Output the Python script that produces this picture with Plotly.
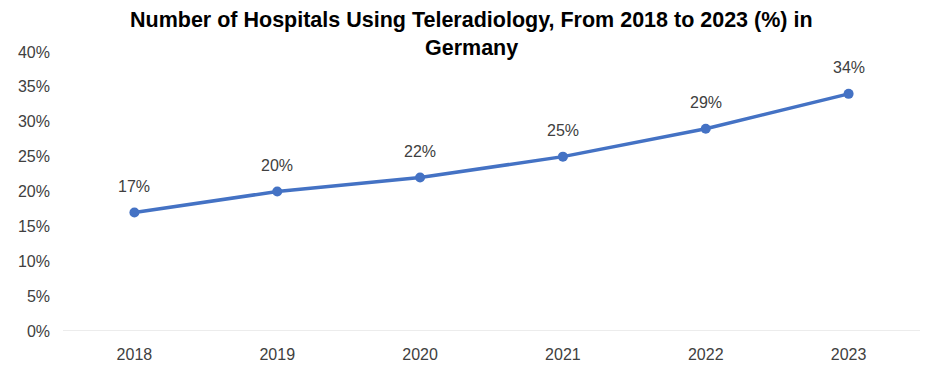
import plotly.graph_objects as go

years = ["2018", "2019", "2020", "2021", "2022", "2023"]
share = [17, 20, 22, 25, 29, 34]
y_ticks = [0, 5, 10, 15, 20, 25, 30, 35, 40]
y_tick_labels = [f"{v}%" for v in y_ticks]
title_lines = ["Number of Hospitals Using Teleradiology, From 2018 to 2023 (%) in", "Germany"]

xs = list(range(len(years)))

L, T, PW, PH = 55, 44, 857, 279
W, Hh = 943, 369

fig = go.Figure()
fig.add_trace(go.Scatter(
    x=xs, y=share, mode="lines+markers",
    line=dict(color="#4472C4", width=3.5),
    marker=dict(color="#4472C4", size=10),
    hoverinfo="skip", showlegend=False,
))
for x, v in zip(xs, share):
    fig.add_annotation(x=x, y=v, xref="x", yref="y", text=f"{v}%", showarrow=False, yshift=26,
                       font=dict(family="Liberation Sans, Arial", size=16, color="#404040"))

for line, ypx in zip(title_lines, [12, 40]):
    fig.add_annotation(xref="paper", yref="paper", x=(463.5 - L) / PW, y=1 - (ypx - T) / PH,
                       xanchor="center", yanchor="middle", showarrow=False, text=line,
                       font=dict(family="Liberation Sans, Arial", size=21.5, color="black", weight="bold"))

fig.update_layout(
    width=W, height=Hh,
    margin=dict(l=L, r=W - L - PW, t=T, b=Hh - T - PH),
    paper_bgcolor="white", plot_bgcolor="white",
    xaxis=dict(range=[-0.5, len(years) - 0.5], tickvals=xs, ticktext=years,
               showgrid=False, showline=False, zeroline=False, automargin=False,
               ticks="", tickfont=dict(family="Liberation Sans, Arial", size=16, color="#404040"),
               ticklabelstandoff=12),
    yaxis=dict(range=[0, 40], tickvals=y_ticks, ticktext=y_tick_labels,
               showgrid=False, zeroline=False, showline=False, ticks="", automargin=False,
               tickfont=dict(family="Liberation Sans, Arial", size=16, color="#404040"),
               ticklabelstandoff=12),
)
fig.add_shape(type="line", xref="paper", yref="y", x0=0, x1=1, y0=0, y1=0,
              line=dict(color="#D9D9D9", width=1), layer="below")

fig.write_html("out.html")
